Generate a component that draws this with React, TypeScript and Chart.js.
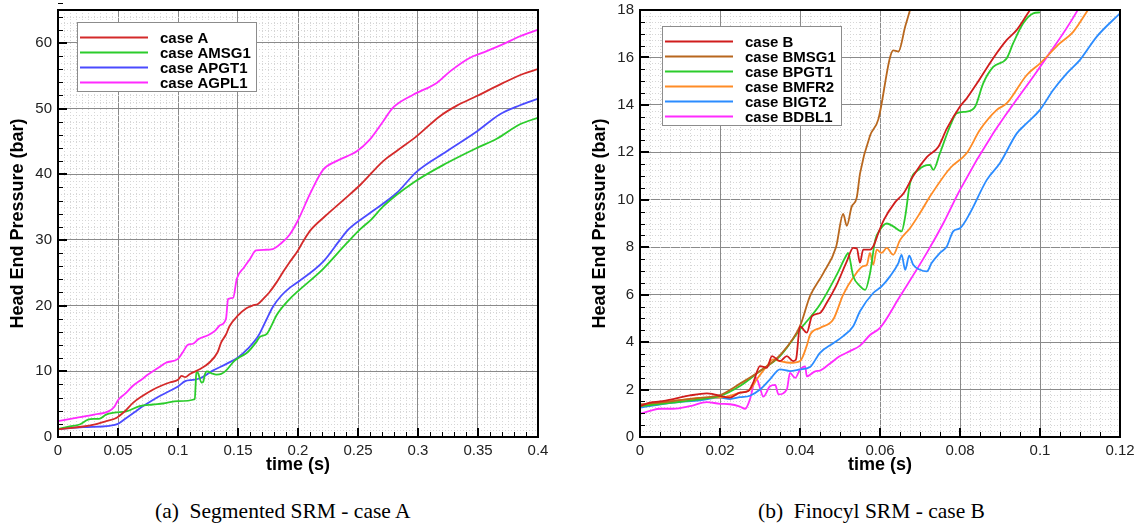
import React, { useEffect, useRef } from 'react';
import { Chart, registerables } from 'chart.js';

Chart.register(...registerables);

// ---------- Panel (a): Segmented SRM - case A ----------
const xTicksA = [0, 0.05, 0.1, 0.15, 0.2, 0.25, 0.3, 0.35, 0.4];
const xTickLabelsA = ['0', '0.05', '0.1', '0.15', '0.2', '0.25', '0.3', '0.35', '0.4'];
const yTicksA = [0, 10, 20, 30, 40, 50, 60];
const yTickLabelsA = ['0', '10', '20', '30', '40', '50', '60'];

const caseA: number[][] = [
  [0, 1.2], [0.01, 1.35], [0.021, 1.6], [0.03, 1.9], [0.04, 2.4], [0.0486, 2.9], [0.055, 3.8],
  [0.0625, 5.2], [0.07, 6.2], [0.079, 7.2], [0.086, 7.8], [0.093, 8.3], [0.1, 8.7], [0.103, 9.3],
  [0.106, 9.1], [0.11, 9.6], [0.118, 10.3], [0.126, 11.3], [0.133, 12.9], [0.136, 14.4], [0.14, 15.6],
  [0.143, 16.9], [0.15, 18.5], [0.157, 19.6], [0.162, 20.0], [0.167, 20.3], [0.172, 21.2], [0.176, 22.0],
  [0.182, 23.5], [0.1875, 25.1], [0.193, 26.6], [0.2, 28.4], [0.205, 30.0], [0.211, 31.6], [0.2225, 33.6],
  [0.238, 36.1], [0.252, 38.4], [0.271, 42.0], [0.282, 43.5], [0.299, 45.8], [0.318, 48.8], [0.332, 50.4],
  [0.349, 51.9], [0.371, 53.9], [0.388, 55.3], [0.4, 56.0],
];
const caseAMSG1: number[][] = [
  [0, 1.2], [0.0097, 1.6], [0.018, 1.9], [0.025, 2.65], [0.0306, 2.75], [0.035, 2.8], [0.04, 3.4],
  [0.047, 3.7], [0.057, 3.9], [0.068, 4.7], [0.079, 4.95], [0.0875, 5.1], [0.1, 5.45], [0.114, 5.75],
  [0.1147, 8.0], [0.1153, 9.9], [0.1168, 9.7], [0.118, 9.0], [0.1194, 8.3], [0.121, 8.4], [0.1225, 9.6],
  [0.124, 10.0], [0.128, 9.7], [0.132, 9.5], [0.136, 9.6], [0.14, 10.1], [0.147, 11.6], [0.152, 12.2],
  [0.158, 12.9], [0.165, 14.4], [0.168, 15.2], [0.174, 15.7], [0.178, 17.0], [0.182, 18.5], [0.193, 21.0],
  [0.2, 22.2], [0.221, 25.6], [0.2406, 29.5], [0.2517, 31.6], [0.261, 33.1], [0.271, 35.1], [0.296, 38.7],
  [0.324, 41.7], [0.349, 44.0], [0.3656, 45.4], [0.385, 47.6], [0.4, 48.6],
];
const caseAPGT1: number[][] = [
  [0, 1.2], [0.021, 1.5], [0.043, 1.7], [0.05, 2.0], [0.057, 2.9], [0.064, 3.8], [0.071, 4.7],
  [0.0833, 6.1], [0.093, 7.0], [0.1, 7.7], [0.106, 8.5], [0.112, 8.7], [0.118, 8.9], [0.129, 10.1],
  [0.14, 11.1], [0.15, 12.1], [0.158, 13.4], [0.167, 15.4], [0.173, 17.6], [0.179, 19.8], [0.186, 21.5],
  [0.193, 22.7], [0.2, 23.6], [0.221, 26.7], [0.235, 30.0], [0.242, 31.6], [0.26, 34.1], [0.282, 37.1],
  [0.299, 40.4], [0.324, 43.5], [0.349, 46.5], [0.368, 49.1], [0.385, 50.5], [0.4, 51.5],
];
const caseAGPL1: number[][] = [
  [0, 2.4], [0.015, 2.9], [0.03, 3.4], [0.042, 3.9], [0.047, 4.6], [0.05, 5.6], [0.056, 6.6],
  [0.0625, 7.8], [0.07, 8.8], [0.075, 9.5], [0.0833, 10.5], [0.09, 11.3], [0.1, 11.9], [0.104, 12.9],
  [0.108, 14.0], [0.1125, 14.2], [0.117, 14.9], [0.125, 15.5], [0.131, 16.2], [0.135, 17.0], [0.14, 18.0],
  [0.1417, 21.0], [0.146, 21.2], [0.149, 24.1], [0.155, 25.8], [0.16, 27.1], [0.165, 28.4], [0.172, 28.5],
  [0.179, 28.6], [0.186, 29.5], [0.193, 30.8], [0.2, 33.0], [0.21, 37.0], [0.221, 40.7], [0.232, 42.0],
  [0.249, 43.5], [0.26, 45.3], [0.27, 47.8], [0.279, 50.1], [0.296, 52.1], [0.3156, 53.9], [0.327, 55.7],
  [0.343, 57.7], [0.354, 58.5], [0.371, 59.8], [0.385, 61.0], [0.4, 62.0],
];

// ---------- Panel (b): Finocyl SRM - case B ----------
const xTicksB = [0, 0.02, 0.04, 0.06, 0.08, 0.1, 0.12];
const xTickLabelsB = ['0', '0.02', '0.04', '0.06', '0.08', '0.1', '0.12'];
const yTicksB = [0, 2, 4, 6, 8, 10, 12, 14, 16, 18];
const yTickLabelsB = ['0', '2', '4', '6', '8', '10', '12', '14', '16', '18'];

const caseB: number[][] = [
  [0, 1.3], [0.0025, 1.45], [0.005, 1.5], [0.0083, 1.6], [0.0125, 1.75], [0.0167, 1.84], [0.018, 1.82],
  [0.02, 1.73], [0.0225, 1.66], [0.025, 1.87], [0.0271, 1.94], [0.0283, 2.29], [0.03, 2.99], [0.0317, 2.92],
  [0.033, 3.41], [0.035, 3.2], [0.0367, 3.41], [0.0383, 3.2], [0.039, 3.27], [0.04, 4.67], [0.0417, 4.4],
  [0.043, 5.1], [0.045, 5.23], [0.0467, 5.66], [0.049, 6.36], [0.0517, 7.4], [0.0533, 7.97], [0.0542, 7.95],
  [0.055, 7.35], [0.0558, 7.9], [0.0575, 7.9], [0.0583, 8.03], [0.0596, 8.6], [0.061, 9.16], [0.0638, 9.9],
  [0.066, 10.3], [0.0683, 11.0], [0.0717, 11.8], [0.0746, 12.24], [0.0767, 13.0], [0.08, 13.93],
  [0.0817, 14.28], [0.0842, 14.9], [0.0883, 15.97], [0.0917, 16.74], [0.0942, 17.16], [0.0975, 18.0], [0.1, 18.6],
];
const caseBMSG1: number[][] = [
  [0, 1.375], [0.005, 1.45], [0.01, 1.55], [0.015, 1.65], [0.02, 1.77], [0.025, 2.25], [0.03, 2.78],
  [0.035, 3.45], [0.04, 4.67], [0.0425, 5.94], [0.0458, 6.9], [0.049, 8.0], [0.0508, 9.4], [0.0517, 8.9],
  [0.0529, 9.7], [0.0542, 10.1], [0.055, 11.1], [0.0575, 12.7], [0.0596, 13.4], [0.0625, 16.0],
  [0.0633, 16.3], [0.0646, 16.25], [0.0663, 17.3], [0.0675, 18.0], [0.069, 19.0],
];
const caseBPGT1: number[][] = [
  [0, 1.3], [0.0083, 1.45], [0.015, 1.59], [0.02, 1.73], [0.025, 2.15], [0.03, 2.78], [0.035, 3.41],
  [0.04, 4.53], [0.045, 5.59], [0.049, 6.78], [0.0517, 7.69], [0.052, 7.76], [0.0533, 6.78], [0.055, 6.36],
  [0.0563, 6.2], [0.0575, 6.9], [0.0588, 8.3], [0.06, 8.74], [0.0617, 9.0], [0.0633, 8.88], [0.0654, 8.67],
  [0.0663, 9.3], [0.0675, 10.7], [0.0696, 11.26], [0.0725, 11.47], [0.0733, 11.26], [0.075, 11.97],
  [0.0775, 13.1], [0.0792, 13.65], [0.0817, 13.72], [0.0838, 13.93], [0.0858, 14.91], [0.0883, 15.6],
  [0.0917, 15.97], [0.0933, 16.6], [0.0958, 17.44], [0.0983, 17.86], [0.1, 17.9],
];
const caseBMFR2: number[][] = [
  [0, 1.3], [0.0083, 1.52], [0.0167, 1.66], [0.02, 1.66], [0.025, 1.87], [0.0275, 2.0], [0.0292, 2.43],
  [0.0317, 2.99], [0.0333, 3.27], [0.035, 3.2], [0.0375, 3.13], [0.04, 3.2], [0.0417, 3.85], [0.0425, 4.3],
  [0.045, 4.6], [0.0483, 4.95], [0.0508, 6.0], [0.0533, 6.72], [0.0558, 7.2], [0.0567, 7.25], [0.0575, 7.76],
  [0.0583, 7.26], [0.0592, 7.9], [0.0604, 7.76], [0.0617, 7.97], [0.0633, 7.68], [0.065, 8.3], [0.0675, 8.8],
  [0.07, 9.44], [0.0725, 10.14], [0.0775, 11.33], [0.0817, 11.97], [0.085, 12.95], [0.0892, 13.79],
  [0.0917, 14.07], [0.0967, 15.26], [0.1, 15.75], [0.105, 16.6], [0.1083, 17.08], [0.1117, 17.93], [0.113, 18.3],
];
const caseBIGT2: number[][] = [
  [0, 1.24], [0.0083, 1.45], [0.015, 1.55], [0.02, 1.66], [0.0225, 1.6], [0.025, 1.68], [0.0275, 1.74],
  [0.03, 2.0], [0.0325, 2.43], [0.035, 2.85], [0.0375, 2.78], [0.04, 2.85], [0.0425, 2.95], [0.045, 3.55],
  [0.0483, 3.95], [0.0508, 4.25], [0.0533, 4.67], [0.055, 5.3], [0.0583, 6.07], [0.0604, 6.35], [0.0625, 6.77],
  [0.0646, 7.33], [0.0654, 7.68], [0.0663, 7.05], [0.0673, 7.64], [0.0683, 7.26], [0.07, 7.05], [0.0717, 6.98],
  [0.0729, 7.33], [0.075, 7.76], [0.0767, 8.03], [0.0783, 8.67], [0.08, 8.8], [0.0825, 9.44], [0.0867, 10.84],
  [0.09, 11.55], [0.0942, 12.8], [0.0967, 13.23], [0.1, 13.79], [0.1033, 14.63], [0.1067, 15.33], [0.11, 15.9],
  [0.1142, 16.88], [0.12, 17.86],
];
const caseBDBL1: number[][] = [
  [0, 0.98], [0.0025, 1.1], [0.005, 1.19], [0.0083, 1.19], [0.0125, 1.3], [0.0167, 1.47], [0.02, 1.4],
  [0.0225, 1.38], [0.025, 1.28], [0.0263, 1.19], [0.0275, 1.59], [0.029, 2.5], [0.03, 2.07], [0.0308, 1.7],
  [0.0325, 2.14], [0.0338, 2.2], [0.0346, 1.8], [0.0367, 2.0], [0.0375, 2.7], [0.0388, 2.49], [0.04, 2.84],
  [0.0413, 2.98], [0.0417, 2.56], [0.0438, 2.77], [0.045, 2.8], [0.0475, 3.1], [0.05, 3.41], [0.0525, 3.62],
  [0.055, 3.85], [0.0575, 4.3], [0.06, 4.6], [0.065, 5.93], [0.0717, 7.76], [0.0758, 9.0], [0.08, 10.42],
  [0.0883, 12.8], [0.1, 15.6], [0.1092, 17.93], [0.11, 18.2],
];

const FONT = '"Liberation Sans", Arial, Helvetica, sans-serif';

const framePlugin = {
  id: 'frame',
  beforeDatasetsDraw(chart: any, _a: any, o: any) {
    const { ctx, chartArea } = chart;
    const { left, right, top, bottom } = chartArea;
    const xs = chart.scales.x;
    const ys = chart.scales.y;
    ctx.save();
    ctx.strokeStyle = '#d6d6d6';
    ctx.lineWidth = 1;
    ctx.setLineDash([1, 2]);
    const nX = Math.round((o.xMax - o.xMin) / o.xMinorGrid);
    for (let i = 1; i < nX; i++) {
      if (i % o.xMinorPerMajor === 0) continue;
      const px = Math.round(xs.getPixelForValue(o.xMin + i * o.xMinorGrid)) + 0.5;
      ctx.beginPath(); ctx.moveTo(px, top); ctx.lineTo(px, bottom); ctx.stroke();
    }
    const nY = Math.round((o.yMax - o.yMin) / o.yMinorGrid);
    for (let i = 1; i < nY; i++) {
      if (i % o.yMinorPerMajor === 0) continue;
      const py = Math.round(ys.getPixelForValue(o.yMin + i * o.yMinorGrid)) + 0.5;
      ctx.beginPath(); ctx.moveTo(left, py); ctx.lineTo(right, py); ctx.stroke();
    }
    ctx.restore();
  },
  afterDatasetsDraw(chart: any, _a: any, o: any) {
    const { ctx, chartArea } = chart;
    const { left, right, top, bottom } = chartArea;
    const xs = chart.scales.x;
    const ys = chart.scales.y;
    ctx.save();
    ctx.strokeStyle = '#000';
    const nX = Math.round((o.xMax - o.xMin) / o.xMinorTick);
    for (let i = 0; i <= nX; i++) {
      const major = i % o.xTickPerMajor === 0;
      ctx.lineWidth = major ? 2 : 1;
      const px = Math.round(xs.getPixelForValue(o.xMin + i * o.xMinorTick)) + (major ? 0 : 0.5);
      ctx.beginPath(); ctx.moveTo(px, bottom); ctx.lineTo(px, bottom - (major ? 9 : 5)); ctx.stroke();
    }
    const nY = Math.round((o.yMax - o.yMin) / o.yMinorTick);
    for (let i = 0; i <= nY; i++) {
      const major = i % o.yTickPerMajor === 0;
      ctx.lineWidth = major ? 2 : 1;
      const py = Math.round(ys.getPixelForValue(o.yMin + i * o.yMinorTick)) + (major ? 0 : 0.5);
      ctx.beginPath(); ctx.moveTo(left, py); ctx.lineTo(left + (major ? 9 : 5), py); ctx.stroke();
    }
    ctx.lineWidth = 2;
    ctx.strokeRect(left, top, right - left, bottom - top);
    ctx.restore();
  },
};

const legendPlugin = {
  id: 'boxLegend',
  afterDatasetsDraw(chart: any, _a: any, L: any) {
    const { ctx } = chart;
    ctx.save();
    ctx.fillStyle = '#ffffff';
    ctx.fillRect(L.x, L.y, L.w, L.h);
    ctx.strokeStyle = '#8c8c8c';
    ctx.lineWidth = 1;
    ctx.strokeRect(L.x + 0.5, L.y + 0.5, L.w, L.h);
    chart.data.datasets.forEach((ds: any, i: number) => {
      const yy = Math.round(L.row0 + i * L.rowH) + 0.5;
      ctx.strokeStyle = ds.borderColor;
      ctx.lineWidth = 2;
      ctx.beginPath(); ctx.moveTo(L.lx0, yy); ctx.lineTo(L.lx1, yy); ctx.stroke();
      ctx.fillStyle = '#000';
      ctx.font = `bold 15px ${FONT}`;
      ctx.textBaseline = 'middle';
      ctx.fillText(ds.label, L.tx, yy + 1);
    });
    ctx.restore();
  },
};

type Series = { label: string; color: string; data: number[][] };
type PanelCfg = {
  left: number; width: number; height: number;
  yAxisWidth: number; padRight: number; padTop: number; xAxisHeight: number;
  xMin: number; xMax: number; yMin: number; yMax: number;
  xTicks: number[]; xTickLabels: string[]; yTicks: number[]; yTickLabels: string[];
  frame: any; legend: any; yTitlePad: number; series: Series[];
};

function Panel({ cfg }: { cfg: PanelCfg }) {
  const ref = useRef<HTMLCanvasElement>(null);
  useEffect(() => {
    if (!ref.current) return;
    const chart = new Chart(ref.current, {
      type: 'line',
      data: {
        datasets: cfg.series.map((s) => ({
          label: s.label,
          data: s.data.map(([x, y]) => ({ x, y })),
          borderColor: s.color,
          backgroundColor: s.color,
          borderWidth: 1.8,
          pointRadius: 0,
          fill: false,
          cubicInterpolationMode: 'monotone' as const,
        })),
      },
      options: {
        responsive: false,
        animation: false,
        devicePixelRatio: 1,
        events: [],
        layout: { padding: { left: 0, right: cfg.padRight, top: cfg.padTop, bottom: 0 } },
        plugins: {
          legend: { display: false },
          tooltip: { enabled: false },
          frame: cfg.frame,
          boxLegend: cfg.legend,
        } as any,
        scales: {
          x: {
            type: 'linear',
            min: cfg.xMin,
            max: cfg.xMax,
            afterBuildTicks: (s: any) => { s.ticks = cfg.xTicks.map((v) => ({ value: v })); },
            afterFit: (s: any) => { s.height = cfg.xAxisHeight; s.paddingLeft = 0; s.paddingRight = 0; },
            grid: { color: '#8a8a8a', lineWidth: 1, drawTicks: false },
            border: { display: false },
            ticks: {
              autoSkip: false, maxRotation: 0, padding: 5, color: '#222',
              font: { family: FONT, size: 15 },
              callback: (_v: any, i: number) => cfg.xTickLabels[i],
            },
            title: {
              display: true, text: 'time (s)', color: '#000',
              font: { family: FONT, size: 18, weight: 'bold' },
              padding: { top: 0, bottom: 9 },
            },
          },
          y: {
            type: 'linear',
            min: cfg.yMin,
            max: cfg.yMax,
            afterBuildTicks: (s: any) => { s.ticks = cfg.yTicks.map((v) => ({ value: v })); },
            afterFit: (s: any) => { s.width = cfg.yAxisWidth; s.paddingTop = 0; s.paddingBottom = 0; },
            grid: { color: '#8a8a8a', lineWidth: 1, drawTicks: false },
            border: { display: false },
            ticks: {
              autoSkip: false, padding: 6, color: '#222',
              font: { family: FONT, size: 15 },
              callback: (_v: any, i: number) => cfg.yTickLabels[i],
            },
            title: {
              display: true, text: 'Head End Pressure (bar)', color: '#000',
              font: { family: FONT, size: 18, weight: 'bold' },
              padding: { top: cfg.yTitlePad, bottom: 0 },
            },
          },
        },
      },
      plugins: [framePlugin, legendPlugin],
    } as any);
    return () => chart.destroy();
  }, [cfg]);
  return (
    <canvas
      ref={ref}
      width={cfg.width}
      height={cfg.height}
      style={{ position: 'absolute', left: cfg.left, top: 0, width: cfg.width, height: cfg.height }}
    />
  );
}

const panelA: PanelCfg = {
  left: 0, width: 568, height: 485,
  yAxisWidth: 58, padRight: 30, padTop: 10, xAxisHeight: 48,
  xMin: 0, xMax: 0.4, yMin: 0, yMax: 65,
  xTicks: xTicksA, xTickLabels: xTickLabelsA, yTicks: yTicksA, yTickLabels: yTickLabelsA,
  frame: {
    xMin: 0, xMax: 0.4, yMin: 0, yMax: 65,
    xMinorGrid: 0.005, xMinorPerMajor: 10, xMinorTick: 0.01, xTickPerMajor: 5,
    yMinorGrid: 1, yMinorPerMajor: 10, yMinorTick: 2, yTickPerMajor: 5,
  },
  legend: { x: 77, y: 22, w: 179, h: 69, lx0: 80, lx1: 148, tx: 160, row0: 36.5, rowH: 15 },
  yTitlePad: 7,
  series: [
    { label: 'case A', color: '#d42a2a', data: caseA },
    { label: 'case AMSG1', color: '#2bcc2b', data: caseAMSG1 },
    { label: 'case APGT1', color: '#4b4bff', data: caseAPGT1 },
    { label: 'case AGPL1', color: '#ff2bff', data: caseAGPL1 },
  ],
};

const panelB: PanelCfg = {
  left: 568, width: 568, height: 485,
  yAxisWidth: 72, padRight: 16, padTop: 10, xAxisHeight: 48,
  xMin: 0, xMax: 0.12, yMin: 0, yMax: 18,
  xTicks: xTicksB, xTickLabels: xTickLabelsB, yTicks: yTicksB, yTickLabels: yTickLabelsB,
  frame: {
    xMin: 0, xMax: 0.12, yMin: 0, yMax: 18,
    xMinorGrid: 0.0025, xMinorPerMajor: 8, xMinorTick: 0.005, xTickPerMajor: 4,
    yMinorGrid: 0.25, yMinorPerMajor: 8, yMinorTick: 0.5, yTickPerMajor: 4,
  },
  legend: { x: 94, y: 26, w: 179, h: 99, lx0: 97, lx1: 165, tx: 177, row0: 40.5, rowH: 15 },
  yTitlePad: 21,
  series: [
    { label: 'case B', color: '#d01c1c', data: caseB },
    { label: 'case BMSG1', color: '#b8671e', data: caseBMSG1 },
    { label: 'case BPGT1', color: '#2bcc2b', data: caseBPGT1 },
    { label: 'case BMFR2', color: '#ff8c26', data: caseBMFR2 },
    { label: 'case BIGT2', color: '#2b8cff', data: caseBIGT2 },
    { label: 'case BDBL1', color: '#ff2bff', data: caseBDBL1 },
  ],
};

const captionStyle: React.CSSProperties = {
  position: 'absolute', top: 499, fontFamily: '"Liberation Serif", "Times New Roman", serif',
  fontSize: 21.5, lineHeight: '24px', color: '#000', whiteSpace: 'pre',
};

export default function App() {
  return (
    <div style={{ position: 'absolute', left: 0, top: 0, width: 1136, height: 527, background: '#fff', overflow: 'hidden' }}>
      <Panel cfg={panelA} />
      <Panel cfg={panelB} />
      <div style={{ ...captionStyle, left: 155 }}>(a)  Segmented SRM - case A</div>
      <div style={{ ...captionStyle, left: 758 }}>(b)  Finocyl SRM - case B</div>
    </div>
  );
}
